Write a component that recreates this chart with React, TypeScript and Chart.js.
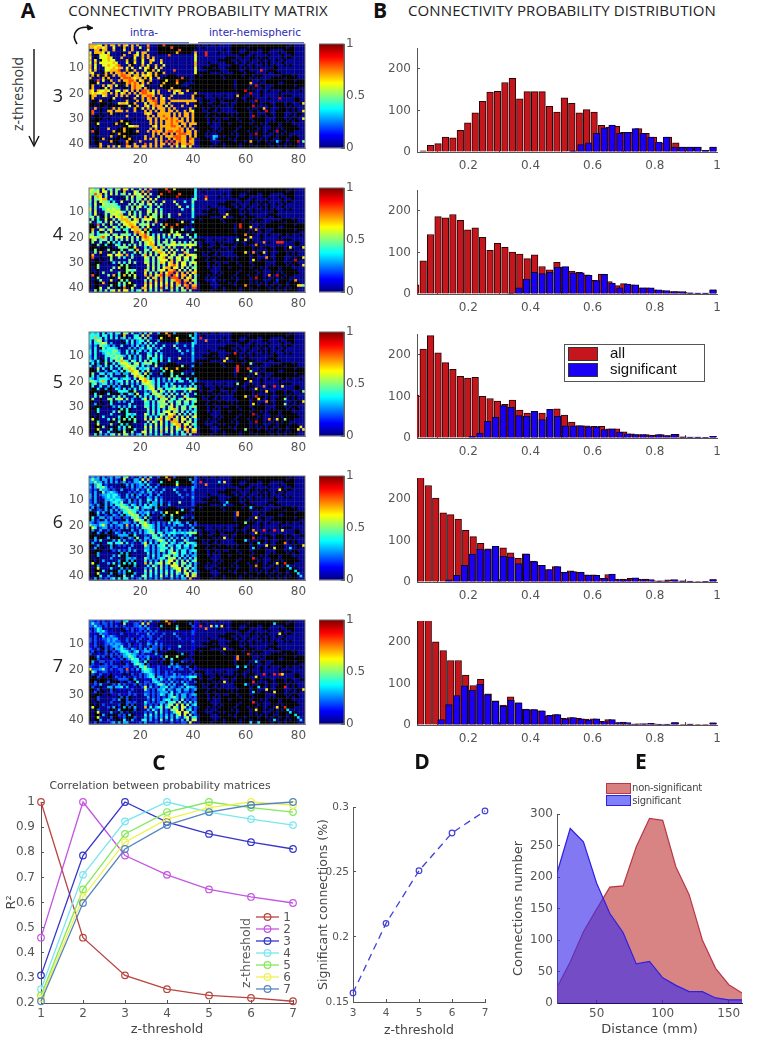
import React, { useEffect, useRef } from "react";
import { Chart, registerables } from "chart.js";
Chart.register(...registerables);
Chart.defaults.font.family = "'DejaVu Sans'";
Chart.defaults.color = "#555";

const matrixXTicks = [20, 40, 60, 80];
const matrixYTicks = [10, 20, 30, 40];
const colorbarTicks = [0, 0.5, 1];
const histXTicks = [0.2, 0.4, 0.6, 0.8, 1];
const histYTicks = [0, 100, 200];

const noTract = [
"..........................###############.#..#..#.....######################.#.....",
"............#.............###############..#..........######.##############.##.....",
"......#...................##############...........#..###...####..###.....####.....",
"..#.........#.............#############..........#....###..##.....##....#..###.....",
"..#..........#...........................................###..#.....#....#...#.......#",
"..#...#.........#........................ ...........####..#..##.#.##.....#.##.....",
"..#.#....#.....#...#.....................  ........#####..#....#...#..#..#..#.....",
"..#.......#.....##.......................  ....#......###..#..#...#.#.#....#.......",
"..#..#..........#........................ .....###.....###..#..#...#.#.#...#.#......",
"..#.......#.....#.....##.................  ..####.#...#####.#.#.#.#.....##.........",
"..#.#....#.....#......##.................  ....#####...####..##.......###..........",
".#...#......#.............###............  #####....#....####.###....#..###..........",
"..#.#..#..............#####...###.......##.#######.#######.###.###.......####.#......",
"#.....#.......#.......#.....##########..###########.#########.#.#....#####.####....",
"##.....#...#.........#.....###########.################.######...#.###########.####",
"###.........##.........#...#########....###############.######..#..#####..#########",
"##.........##.........#...#########...#################.#####.##.##...########.###",
"#...#...#....#.......#.#....##########.################.####.#.#..#..###########",
"..........................#.......#...#####################.###..#..#....##.#...#.",
".........................................................###.#...#......#..........",
"#.#...#.......#.........................####...#...#...####..#...#......#.###.....",
"##......#....#.#...........................#....#.#....#.#..###.....#.........##......",
".##..#.##..........#...................###.###..##.####.###.#...#.............##..",
"###.###.#.....###.......................##.##..###...#..######.##.###..###.##...###.",
"##.###.#######...#......................#######.#.##.#.#######.#....##.###.#.#......",
"....#..#...#.#....#.....................###.#.##.#.....#####.#..###.#...###.#.#....",
"#...#...................................###..##..#......#####.##.#..#..####.#.#....",
"##..#..#.#.#.........##.................#####.###.##.#.#.####.##...##..###...#.##..",
"#.##.#..................................####.##.######.######.##.##.##.###..#..#...",
"#.###..#.........#......................#####.##..#..###.####.#####....###.#.##....",
"####.......#.###........................#####.#.#.#######.####.####..#.####.#.##...",
"#.##.....#.#####........................#####.#...###.#######.###.#.####.####......",
"#..#.........####........................#####....#######.#####.##...###.######...",
"##.#.......#######.......................######..#.#####.#######.#...##.#.######..",
".###......#######.........................###.#.#.#####.####.##.##..##.###.###...",
"#.##....##.########......................###.#...#####.#.####.####.#..#.#.##.....",
"#.#.....#..#####.......................#####...##.#.####.####.#.##...##.####.##...",
"#.###..#.###.####.........................####...####.#.#####.#.#.#.##..###.####..",
"#.##...#.##...###.........................####....#####.###.####.##.#.##.##.###....",
"#.###.....###..#..........................#####..##.#####.###.######.##.##.#.##....",
"...##.#..#.#..#...........................####.####.#####.#####.#####.##.#.####....",
].map((s) => s.replace(/ /g, ""));

const intra3 = [
"77766.7.77.7.76.7.7...7.....8............",
"7767767..6...7..7..6..8........8.........",
"..77.77..7...6..7.....6...........8......",
"6.7776.6.......7..6.77...........7......7",
"7...6667.....7...76.7.7.......8.........6",
"6...66676...7....6..7.7.7...............6",
"7.6..66766....7..7..6..76..7............6",
"6.7.6666676...6..6..6..7...6............7",
"7.6..6676678...7....7.6..7..6...........7",
"7.6...6667677.6.6..6.67..6.7............6",
"6.7...667778..7..7...6..7.6.....8.......6",
"76....7.7.7787.76.7.7.67.7..7...........6",
".7.7..7..7.78877.77.6767.7...............",
"7....7.7....78887677.7.6..7........8.....",
"...8.6..7..7.77887.67..7.....6...8.......",
"...6.....7....78787.7.7.....7....7.......",
".7...7.67.6...7.78776......7.............",
".7....6.7.......7877.7.........7.........",
"76.76676..66.76.7.7.887.6.7...7.767..7...",
"7676677.7.7.67.7.7.788776.7.....6.76....7",
".77..67...7.7.7...6.77887..7...7.......7.",
".7.......6.......7..7.78.7.76.7........7.",
"....7.........7...7.7.7788.77..7777777777",
"...........6776..7...6.778.77.7......7...",
"...............6..7..76.7877.6.7...7....7",
"..7......7.7.....7..6.7.6.777.7.7.....7..",
".8.....77.777.7..7...7.7.7.77.77.7..7.76.",
".8......7............767..77777.7.7.77.7.",
"..............7.......7.7.77877.7.7.77.7.",
"......................77.7.7787877.7.7.7..",
"............7..........7.7.7.7787877.7.7.7.",
"...6......7...6........7.7.7.77877.77.7777",
"...............6677.....76.77778877.7.7....",
".......7.....7.........7.7.7.7777787.7.7...",
".8.......7...7....7...7.7877.7887887.77.7.",
"...........7............7.7.78.7.788877.77.",
"........7....7.......7..7..7.77788877.7.7",
".....7.........7.....7.7.7.7..7.78877.87.",
"........7.....7....7.....7.7.8.8.7877.77.",
"....7.........8..7...8.7.7.77.7.87.77887.",
"....7..7.7.6..77.77.77.7.7.7...7.6.66.6..",
];
const intra4 = [
"5645.6.45.55.66.5..5.5.7.....8..6.......4",
"6556.66.5.5..7...65.7.8.......9.........4",
"55857.5.6.5.45.5.656.6.5...8......8.....4",
"6.576.5.......5.6.556.7...5......9......4",
"5.55677.4.....5.5.55.5.6.6.............45",
"5.5.6554.4..6...5.5.6.7.5...6...6...4..5.",
"4.6..655554....5.5.55.56.5.5.....5.....4.",
"5.5.45555554..5.5.56.4.5..5.......6..4.4.",
"6.5..4565655..5.5.5...55.5.4.......4...5.",
"5.6...55656654.5.4.5..65.6.5...........4.",
"4.6...5.56657..6.5.5..5.55.5..5...7....4.",
"55.5..5.6.66765.65.5.7.655.5..5........4.",
".5.4..6..5.57775.67.5666.5...............",
"5..44.5.6.5.5677665.5.5..7.........6...4.",
"...8.5..5..5.66776.5556.5..5.8...8.......",
"...5..5..64.5.56877.5.6.....5..8.........",
".7..65.56.54.44.6775.7.4...4...5...5...4.",
".5.4..5.6.....5..7876.5........6.5.......",
"55.45565.55.5554.5.7785.4.5.5.6.566..5..4",
"6655785.5.656.6.5.6.78765.6.4.4.5.55..5.4",
".56.455.4.5.5.5.5.4.67765.5..5.5.......5.",
".5..5..5.4.4....5..5.5676.5.55.56.5.4.5.5",
"...5..4...54.5.4.5.5.5677.55.556655656665",
"...........5555..6...4.476.75.6.5...5.6..",
"..5....5....4..54.7..55.6765.5.6.5.6.5..5",
"..5.7....5.6.5...5.5.5.5.5776.6.6...75...",
".7.....66.667.7.4...57.6.5.666.65.56.7665",
".8......5..5.4..5....65.5.667.65.66.66.56",
"........5......5.....55.5.5666.7.56.55.5.",
".........4.5.4.5.5...65.5.576.67.6.66.566",
"...5........5.5.......6.5.5.5.6786.66.5.56",
"...5.....5.6..5.......5.6.5.677.66.6.5.55",
"........5.....5545...75.5.566.778.6.5.6.6",
".....5.....5..5.5....6.5.5.7.688.7.7.7.67",
".8.....5.7.4.7.5.6...7.7.678.78.86.77.6.5",
"...5.......6.....5....6.75.7.5.888.7.67.5",
"....5...6...5.4......5.5.7.7.5.5788.77.65",
".....7.....5.5.6.....7.7.6.6.6.6.78.8.7.5",
"........5..4.5...5...6.6.6.6.7.6.75.78.77",
"....6..5.....8..6...77.6.5.8.5.7.5.6.8.88",
"..5.4.5.56.6.66.4.45.6.4.5.5...5.4.55.5..",
];
const intra5 = [
"3434.4.34.44.55.4..3.4.5..3..7..3.......3",
"4444.44.4.3..7...44.6.7.......8.......4.3",
"44744.4.4.4.34.3.445.5.3...6.....6.....43",
"4.465.3.......4.4.344.5...3......7......3",
"4.44565.3.....3.4.34.4.4.4.......3.....43",
"3.3.5443.3..4...3.4.3.5.4...4...5...3..4.",
"3.4..534443....3.3.34.44.3.4.....4.....3.",
"4.4.34444553..4.4.34.3.4..4.......4..3.3.",
"4.4..3454544..4.3.4...43.4.3.......3...4.",
"3.4...44545543.4.3.4..54.5.4...........3.",
"3.4...4.45546..4.3.4..4.44.4..3...6....3.",
"43.4..4.4.55754.54.4.5.544.4..4........3.",
".4.3..5..4.46664.56.4555.4...............",
"4..33.4.4.4.4566554.4.3..6.........5...3.",
"...6.4..4..4.55765.4345.3..4.7...7.......",
"...4..3..43.4.45766.4.5.....4..6.........",
".5..44.34.33.33.5664.6.3...3...4...4...3.",
".4.3..4.4.....4..6765.4........5.4.......",
"43.34443.44.3443.4.6674.3.4.3.5.454..4..3",
"5543574.4.344.5.4.5.67654.4.3.3.4.44..4.3",
".45.344.3.3.4.4.3.3.56654.4..4.4.......4.",
".4..4..3.3.3....4..4.4565.4.34.35.4.3.4.4",
"...4..3...43.4.3.4.4.4566.55.445544545665",
"...........4444..5...3.365.64.5.4...4.5..",
"..4....4....3..43.6..44.5654.4.5.4.5.4..4",
"..4.5....4.5.4...4.4.4.4.4675.5.5...64...",
".5.....55.556.5.3...46.5.4.556.54.45.6554",
"........4..3.3..4....54.4.556.54.55.55.45",
"..3.....4......4.....44.4.4555.6.45.44.4.",
".........3.4.3.4.4...54.4.465.56.5.55.455",
"...4........4.4.......5.4.4.4.5675.55.4.45",
"...4.....4.5..4.......4.5.4.566.55.5.4.44",
"........4.....4434...64.4.455.667.5.4.5.5",
".....4.....4..4.4....5.4.4.6.577.6.6.6.56",
".6.....4.5.3.5.4.5...6.6.567.67.75.66.5.4",
"...4.......5.....4....5.64.6.4.777.6.56.4",
"...6....5...4.3......4.4.6.6.4.4677.66.54",
".....5.....4.4.5.....6.6.5.5.5.5.67.7.6.4",
"...6....4..3.4...4...5.5.5.5.6.5.64.67.66",
"....5..4.....6..5...66.5.4.7.4.6.4.5.7.77",
"..4.3.3.45.5.55.3.34.5.3.4.4...4.3.44.5..",
];
const intra6 = [
"2323.3.23.33.45.2..3.3.4..2..7..2.......2",
"3533.33.3.2..6...33.6.7.......8.......3.2",
"33533.3.3.3.23.2.334.4.2...4.....4.....32",
"2.354.2.......3.3.233.4...2......6......2",
"3.35453.2.....2.3.23.3.3.3.......2.....32",
"2.2.4332.2..3...2.3.2.4.3...3...4...2..3.",
"2.3..523432....2.2.23.33.2.3.....3.....2.",
"3.3.23343442..3.3.23.2.3..3.......3..2.2.",
"3.3..2343433..3.2.3...32.3.2.......2...3.",
"2.3...33434432.3.2.3..43.4.3...........2.",
"2.3...3.34435..3.2.3..3.33.3..2...5....2.",
"32.3..3.3.44543.43.3.4.433.3..3........2.",
".3.2..3..3.35553.45.3443.3...............",
"3..22.3.3.3.3455443.3.2..4.........4...2.",
"...4.3..3..3.44654.3234.2..3.6...6.......",
"...3..2..32.3.34655.3.4.....3..5.........",
".4..33.23.22.22.4553.5.2...2...3...3...2.",
".3.2..3.3.....3..5654.3........4.3.......",
"32.23332.33.2332.3.5563.2.3.2.4.343..3..2",
"5332463.3.233.7.3.4.56543.3.2.2.3.33..3.2",
".64.233.2.2.3.3.2.2.45543.3..3.3.......3.",
".3..3..2.2.2....3..3.3454.3.23.24.3.2.3.3",
"...3..2...32.3.2.3.3.3455.44.334433434555",
"...........3333..4...2.254.53.4.3...3.4..",
"..3....3....2..32.5..33.4543.3.4.3.4.3..3",
"..3.4....3.4.3...3.3.3.3.3564.4.4...53...",
".3.....44.445.4.2...36.4.3.445.43.34.5443",
"...3....3..2.2..3....63.3.445.43.44.44.34",
"..3.....3......3.....33.3.3444.5.34.33.3.",
".........2.3.2.3.3...43.3.354.45.4.44.344",
"...3........3.3.......4.3.3.3.4564.44.3.34",
"...3.....3.4..3.......3.4.3.455.44.4.3.33",
"........3.....3323...53.3.344.556.4.3.4.4",
".....3.....3..3.3....4.3.3.5.466.5.5.5.45",
".6.....3.4.2.4.3.4...7.5.456.56.64.55.4.3",
"...3.......4.....3....4.53.5.3.666.5.45.3",
"...6....4...3.2......3.3.5.5.3.3566.55.43",
".....4.....3.3.4.....5.5.4.4.4.4.56.6.5.3",
"...6....3..2.3...3...4.4.4.4.5.4.53.56.55",
"....4..3.....5..4...55.4.3.6.3.5.3.4.6.67",
"..3.2.2.34.4.44.2.23.4.2.3.3...3.2.33.7..",
];
const intra7 = [
"2212.2.12.22.34.1..2.2.3..1..7..1.......1",
"2422.22.2.1..5...22.6.7.......8.......2.1",
"22422.2.2.2.12.1.223.3.1...3.....3.....21",
"1.243.1.......2.2.122.3...1......5......1",
"2.24342.1.....1.2.12.2.2.2.......1.....21",
"1.1.3221.1..2...1.2.1.3.2...2...3...1..2.",
"1.2..412321....1.1.12.22.1.2.....2.....1.",
"2.2.12232331..2.2.12.1.2..2.......2..1.1.",
"2.2..1232322..2.1.2...21.2.1.......1...2.",
"1.2...22323321.2.1.2..32.3.2...........1.",
"1.2...2.23324..2.1.2..2.22.2..1...4....1.",
"21.2..2.2.33432.32.2.3.322.2..2........1.",
".2.1..2..2.24442.34.2332.2...............",
"2..11.2.2.2.2344332.2.1..3.........3...1.",
"...3.2..2..2.33543.2123.1..2.5...5.......",
"...2..1..21.2.23544.2.3.....2..4.........",
".3..22.12.11.11.3442.4.1...1...2...2...1.",
".2.1..2.2.....2..4543.2........3.2.......",
"21.12221.22.1221.2.4452.1.2.1.3.232..2..1",
"6222352.2.122.8.2.3.45432.2.1.1.2.22..2.1",
".53.122.1.1.2.2.1.1.34432.2..2.2.......2.",
".2..2..1.1.1....2..2.2343.2.12.13.2.1.2.2",
"...2..1...21.2.1.2.2.2344.33.223322323444",
"...........2222..3...1.143.42.3.2...2.3..",
"..2....2....1..21.4..22.3432.2.3.2.3.2..2",
"..2.3....2.3.2...2.2.2.2.2453.3.3...42...",
".2.....33.334.3.1...26.3.2.334.32.23.4332",
"...2....2..1.1..2....52.2.334.32.33.33.23",
"..2.....2......2.....22.2.2333.4.23.22.2.",
".........1.2.1.2.2...32.2.243.34.3.33.233",
"...2........2.2.......3.2.2.2.3453.33.2.23",
"...2.....2.3..2.......2.3.2.344.33.5.2.22",
"........2.....2212...42.2.233.445.5.3.4.3",
".....2.....2..2.2....3.2.2.4.355.6.6.5.34",
".6.....2.3.1.3.2.3...7.4.345.45.64.65.3.2",
"...2.......3.....2....3.42.4.2.556.6.34.2",
"...6....3...2.1......2.2.4.4.2.2466.66.32",
".....3.....2.2.3.....4.4.3.3.3.3.46.6.5.2",
"...6....2..1.2...2...3.3.3.3.4.3.42.46.44",
"....3..2.....4..3...44.3.2.5.2.4.2.3.5.66",
"..2.1.1.23.3.33.1.12.3.1.2.2...2.1.22.6..",
];

const inter3 = [[4,45,8.5],[5,45,8.5],[11,66,8.5],[16,62,7],[17,64,9],[19,60,9],[20,62,9],[21,57,7],[22,73,9],[23,64,9],[24,82,6.5],[25,63,9],[26,67,7],[27,68,9],[27,82,6.5],[29,63,9],[30,82,6.5],[35,72,9],[36,64,9],[37,48,3.5],[37,49,3],[38,48,3],[39,62,7],[39,72,3.5],[39,80,9],[39,82,5]];
const inter4 = [[4,45,8.5],[5,45,7],[11,53,6.5],[12,52,6.5],[15,58,8.5],[16,58,8.5],[16,62,6.5],[17,64,7.5],[19,60,7.5],[20,62,6.5],[21,60,6.5],[21,57,5],[22,67,7.5],[22,72,8.5],[22,73,8.5],[22,74,8.5],[23,64,7.5],[24,77,6.5],[24,82,6.5],[26,60,6.5],[26,67,6.5],[26,63,7.5],[28,68,7.5],[28,82,6.5],[29,63,6.5],[29,79,9],[31,82,6.5],[35,72,9],[35,69,7.5],[36,64,9],[37,79,7.5],[37,48,1.5],[39,60,7.5],[39,80,6.5],[39,81,6.5],[39,82,5],[37,72,1.5]];
const inter5 = [[3,43,8.5],[4,45,7.5],[9,56,8.5],[12,52,6.5],[11,53,6.5],[14,57,8.5],[15,57,8.5],[16,57,8.5],[13,62,5],[16,62,5],[15,61,8.5],[17,64,6.5],[19,60,6.5],[20,62,6.5],[21,57,5],[22,74,6.5],[22,71,8.5],[22,67,7.5],[23,64,6.5],[24,68,6.5],[24,82,5],[26,60,6.5],[26,64,8.5],[27,65,6.5],[29,63,6.5],[28,68,7.5],[27,75,5],[29,75,5],[28,82,6.5],[33,63,9],[36,64,9],[35,72,6.5],[35,69,7.5],[35,75,5],[39,80,6.5],[38,81,6.5],[39,82,6.5],[39,60,5]];
const inter6 = [[3,43,8.5],[4,45,7.5],[3,50,3.5],[3,52,6.5],[12,52,3],[11,53,3.5],[15,57,7.5],[16,57,7.5],[6,73,6.5],[13,62,3.5],[17,64,6.5],[19,60,5],[22,63,7.5],[22,67,8.5],[22,71,8.5],[22,74,6.5],[23,64,6.5],[25,52,6.5],[25,63,8.5],[26,60,3.5],[27,65,3.5],[29,63,3.5],[28,68,6.5],[29,71,6.5],[27,75,7.5],[29,77,3.5],[28,82,6.5],[33,63,8.5],[36,64,7.5],[35,72,6.5],[35,75,8.5],[36,76,3.5],[37,77,3.5],[38,79,3.5],[39,80,3.5],[40,81,3.5]];
const inter7 = [[3,43,8.5],[4,45,7.5],[3,47,6.5],[3,49,3.5],[3,51,6.5],[2,71,3.5],[6,73,6.5],[12,52,6.5],[15,57,7.5],[16,57,7.5],[14,61,8.5],[17,64,3.5],[19,60,3.5],[19,57,3.5],[22,67,8.5],[22,71,8.5],[22,74,6.5],[22,73,8.5],[23,64,6.5],[25,63,8.5],[25,52,6.5],[26,60,3.5],[27,65,3.5],[29,63,3.5],[28,68,6.5],[29,71,6.5],[27,75,8.5],[28,82,6.5],[33,63,8.5],[36,64,6.5],[35,72,6.5],[35,75,8.5],[36,76,3.5],[37,77,3.5],[38,79,3.5],[39,80,3.5],[40,81,3.5],[41,65,3.5],[40,71,3.5],[41,62,3.5]];

const allCounts3 = [0,3,16,20,36,34,52,70,94,122,144,146,167,177,128,145,145,145,110,96,130,117,94,102,96,64,60,62,47,47,56,45,36,22,36,22,12,12,12,4,12];
const sigCounts3 = [0,0,0,0,0,0,0,0,0,0,0,0,0,0,0,0,0,0,0,0,3,18,22,45,58,65,45,47,56,45,36,24,36,12,12,12,12,4,12];
const allCounts4 = [22,80,143,186,183,191,177,154,159,136,105,122,112,101,96,85,94,66,58,76,65,55,52,46,33,48,30,20,25,22,15,15,10,8,6,6,4,2,2,2,10];
const sigCounts4 = [0,0,0,0,0,0,0,0,0,0,0,0,2,15,36,52,49,52,65,66,51,51,45,32,47,26,15,24,22,15,15,10,8,6,6,3,2,2,10];
const allCounts5 = [103,214,246,205,181,165,148,144,146,100,95,89,81,91,67,60,63,60,50,70,55,38,30,29,28,28,22,22,15,10,8,8,7,8,6,9,3,2,2,1,4];
const sigCounts5 = [0,0,0,0,0,0,0,4,12,40,50,78,74,54,52,64,44,69,52,29,29,29,27,27,20,22,14,10,8,8,6,8,6,9,2,2,2,1,4];
const allCounts6 = [0,260,232,202,166,162,151,124,109,93,80,86,82,70,57,68,50,40,30,37,24,27,24,17,17,9,18,7,7,9,7,7,3,3,5,3,3,1,1,1,6];
const sigCounts6 = [0,0,0,0,5,16,40,67,79,78,86,62,60,44,67,49,40,30,37,23,25,23,16,16,9,19,6,6,10,6,6,2,2,6,2,2,0,1,6];
const allCounts7 = [0,300,300,200,179,155,155,120,95,110,75,58,48,68,53,38,37,34,22,25,16,18,16,14,15,9,13,6,7,2,3,3,3,1,1,6,1,2,1,1,5];
const sigCounts7 = [0,0,0,13,49,71,94,84,98,73,57,45,60,53,37,37,34,23,25,15,18,15,12,15,8,13,6,6,2,3,4,2,2,6,0,2,0,0,5];

const zLevels = [1, 2, 3, 4, 5, 6, 7];
const corrTicks = [0.2, 0.3, 0.4, 0.5, 0.6, 0.7, 0.8, 0.9, 1];
const r1 = [1, 0.46, 0.31, 0.255, 0.23, 0.22, 0.207];
const r2 = [0.46, 1, 0.787, 0.71, 0.652, 0.622, 0.598];
const r3 = [0.31, 0.787, 1, 0.92, 0.873, 0.84, 0.813];
const r4 = [0.255, 0.71, 0.923, 1, 0.96, 0.932, 0.908];
const r5 = [0.23, 0.652, 0.873, 0.96, 1, 0.978, 0.96];
const r6 = [0.218, 0.622, 0.84, 0.932, 0.978, 1, 0.988];
const r7 = [0.207, 0.598, 0.813, 0.908, 0.96, 0.988, 1];
const corrColors = ["#b8453f", "#c455e0", "#3535c8", "#78e6f0", "#84e858", "#f0f050", "#5585c0"];

const sigZ = [3, 4, 5, 6, 7];
const sigPercent = [0.157, 0.2105, 0.251, 0.28, 0.297];
const sigYTicks = [0.15, 0.2, 0.25, 0.3];

const distances = [20, 30, 40, 50, 60, 70, 80, 90, 100, 110, 120, 130, 140, 150, 160];
const nonSigConn = [25, 65, 113, 149, 184, 186, 248, 293, 290, 216, 172, 100, 55, 29, 16];
const sigConn = [206, 277, 256, 190, 142, 112, 62, 66, 40, 28, 18, 18, 8, 5, 5];

const jet = (v: number) => {
  const f = (t: number) => Math.max(0, Math.min(1, 1.5 - Math.abs(4 * v - t)));
  return `rgb(${Math.round(255 * f(3))},${Math.round(255 * f(2))},${Math.round(255 * f(1))})`;
};
const TEXT = "#555";

const hideAxisExtras = (s: any, w?: number, h?: number) => {
  if (w !== undefined) s.width = w;
  if (h !== undefined) s.height = h;
  s.paddingLeft = s.paddingRight = s.paddingTop = s.paddingBottom = 0;
};
const axis = (list: number[], min: number, max: number, size: number, extra: any = {}, title?: any) => ({
  type: "linear",
  min,
  max,
  reverse: !!extra.reverse,
  position: extra.position,
  afterBuildTicks: (s: any) => { s.ticks = list.map((value) => ({ value })); },
  grid: { display: true, drawOnChartArea: false, drawTicks: true, tickLength: -3, color: extra.line || "#555" },
  border: { display: true, color: extra.line || "#555", width: 1 },
  ticks: { autoSkip: false, maxRotation: 0, minRotation: 0, padding: extra.pad ?? 8, color: TEXT, font: { size }, callback: (v: any) => String(v) },
  title: title ? { display: true, text: title, color: "#444", font: { size: extra.titleSize || 13 }, padding: extra.titlePad ?? 2 } : { display: false },
});

const framePlugin = {
  id: "frame",
  afterDraw(c: any, _a: any, o: any) {
    if (!o || !o.color) return;
    const a = c.chartArea;
    c.ctx.save();
    c.ctx.strokeStyle = o.color;
    c.ctx.lineWidth = 1;
    c.ctx.strokeRect(a.left, a.top, a.right - a.left, a.bottom - a.top);
    c.ctx.restore();
  },
};

type Geo = { l: number; t: number; r: number; b: number; ml: number; mt: number; mr: number; mb: number };
function Plot({ g, config }: { g: Geo; config: (g: Geo) => any }) {
  const ref = useRef<HTMLCanvasElement>(null);
  useEffect(() => {
    const c = new Chart(ref.current as any, config(g));
    return () => c.destroy();
  }, []);
  return (
    <canvas
      ref={ref}
      width={g.r - g.l + g.ml + g.mr}
      height={g.b - g.t + g.mt + g.mb}
      style={{ position: "absolute", left: g.l - g.ml, top: g.t - g.mt, width: g.r - g.l + g.ml + g.mr, height: g.b - g.t + g.mt + g.mb }}
    />
  );
}
const base = (g: Geo, scales: any, plugins: any = {}) => ({
  responsive: false,
  animation: false,
  devicePixelRatio: 1,
  events: [],
  layout: { padding: { top: g.mt, right: g.mr, left: 0, bottom: 0 } },
  scales,
  plugins: { legend: { display: false }, tooltip: { enabled: false }, ...plugins },
});

const matrixConfig = (intra: string[], inter: number[][]) => (g: Geo) => {
  const sparse = new Map(inter.map(([r, c, v]) => [`${r}:${c}`, v]));
  const data: any[] = [];
  const colors: string[] = [];
  noTract.forEach((row, ri) => {
    for (let ci = 0; ci < 82; ci++) {
      const ch = ci < 41 ? intra[ri][ci] : undefined;
      const sp = sparse.get(`${ri + 1}:${ci + 1}`);
      const tenths = sp !== undefined ? sp : ch && ch !== "." ? Number(ch) : null;
      data.push({ x: ci + 1, y: ri + 1 });
      colors.push(tenths !== null ? jet(tenths / 10) : row[ci] === "#" ? "#000" : "#01018c");
    }
  });
  return {
    type: "scatter",
    data: { datasets: [{ data, pointBackgroundColor: colors, pointBorderWidth: 0, pointRadius: 2.05, pointStyle: "rect" }] },
    options: {
      ...base(g, {
        x: { ...axis(matrixXTicks, 0.5, 82.5, 12, { line: "#777" }), afterFit: (s: any) => hideAxisExtras(s, undefined, g.mb) },
        y: { ...axis(matrixYTicks, 0.5, 41.5, 12, { reverse: true, line: "#777" }), afterFit: (s: any) => hideAxisExtras(s, g.ml) },
      }, { frame: { color: "#777" } }),
    },
    plugins: [framePlugin],
  };
};

const colorbarConfig = (g: Geo) => ({
  type: "bar",
  data: {
    labels: ["p"],
    datasets: [{
      data: [1],
      barPercentage: 1,
      categoryPercentage: 1,
      backgroundColor: (ctx: any) => {
        const a = ctx.chart.chartArea;
        if (!a) return "#000";
        const gr = ctx.chart.ctx.createLinearGradient(0, a.bottom, 0, a.top);
        [0, 0.125, 0.375, 0.625, 0.875, 1].forEach((s) => gr.addColorStop(s, jet(s)));
        return gr;
      },
    }],
  },
  options: {
    ...base(g, {
      x: { display: false, afterFit: (s: any) => hideAxisExtras(s, undefined, 0) },
      y: { ...axis(colorbarTicks, 0, 1, 12, { position: "right", line: "#666", pad: 5 }), afterFit: (s: any) => hideAxisExtras(s, g.mr) },
    }, { frame: { color: "#666" } }),
    layout: { padding: { top: g.mt, bottom: g.mb, left: 0, right: 0 } },
  },
  plugins: [framePlugin],
});

const histConfig = (all: number[], sig: number[], redStep: number) => (g: Geo) => ({
  type: "bar",
  data: {
    datasets: [
      {
        label: "all",
        data: all.map((y, k) => ({ x: 0.987 - (40 - k) * redStep, y })).filter((p) => p.y > 0),
        backgroundColor: "#c4161c", borderColor: "#2a0505", borderWidth: 1, barThickness: 6.6, grouped: false, order: 2,
      },
      {
        label: "significant",
        data: sig.map((y, i) => ({ x: 0.0375 + 0.025 * i, y })).filter((p) => p.y > 0),
        backgroundColor: "#1a00f5", borderColor: "#05052a", borderWidth: 1, barThickness: 6.6, grouped: false, order: 1,
      },
    ],
  },
  options: base(g, {
    x: { ...axis(histXTicks, 0.035, 1, 12, { pad: 10 }), offset: false, afterFit: (s: any) => hideAxisExtras(s, undefined, g.mb) },
    y: { ...axis(histYTicks, 0, 250, 12, { pad: 9 }), afterFit: (s: any) => hideAxisExtras(s, g.ml) },
  }),
});

const corrConfig = (g: Geo) => ({
  type: "line",
  data: {
    labels: zLevels,
    datasets: [r1, r2, r3, r4, r5, r6, r7].map((d, i) => ({
      label: String(zLevels[i]),
      data: d.map((y, k) => ({ x: zLevels[k], y })),
      borderColor: corrColors[i], borderWidth: 1.3, tension: 0, clip: false,
      pointRadius: 3.3, pointBorderWidth: 1.2, pointBorderColor: corrColors[i], pointBackgroundColor: "rgba(0,0,0,0)",
      order: 7 - i,
    })),
  },
  options: base(g, {
    x: { ...axis(zLevels, 1, 7, 12, { titleSize: 13, pad: 7 }, "z-threshold"), afterFit: (s: any) => hideAxisExtras(s, undefined, g.mb) },
    y: { ...axis(corrTicks, 0.2, 1, 12, { pad: 9, titlePad: 4 }, "R²"), afterFit: (s: any) => hideAxisExtras(s, g.ml) },
  }),
});

const sigConfig = (g: Geo) => ({
  type: "line",
  data: {
    labels: sigZ,
    datasets: [{
      data: sigPercent.map((y, k) => ({ x: sigZ[k], y })),
      borderColor: "#4040d8", borderWidth: 1.3, borderDash: [7, 5], tension: 0, clip: false,
      pointRadius: 2.8, pointBorderWidth: 1.2, pointBorderColor: "#4040d8", pointBackgroundColor: "rgba(0,0,0,0)",
    }],
  },
  options: base(g, {
    x: { ...axis(sigZ, 3, 7, 10.5, { titleSize: 12.5, pad: 8 }, "z-threshold"), afterFit: (s: any) => hideAxisExtras(s, undefined, g.mb) },
    y: { ...axis(sigYTicks, 0.15, 0.3, 10.5, { titleSize: 12.5, pad: 7, titlePad: 1 }, "Significant connections (%)"), afterFit: (s: any) => hideAxisExtras(s, g.ml) },
  }),
});

const distConfig = (g: Geo) => ({
  type: "line",
  data: {
    labels: distances,
    datasets: [
      {
        label: "non-significant",
        data: nonSigConn.map((y, k) => ({ x: distances[k], y })),
        borderColor: "#b83848", borderWidth: 1.2, backgroundColor: "rgba(190,50,50,0.6)", fill: "origin", pointRadius: 0, tension: 0, order: 2,
      },
      {
        label: "significant",
        data: sigConn.map((y, k) => ({ x: distances[k], y })),
        borderColor: "#3020e0", borderWidth: 1.2, backgroundColor: "rgba(60,45,235,0.64)", fill: "origin", pointRadius: 0, tension: 0, order: 1,
      },
    ],
  },
  options: base(g, {
    x: { ...axis([50, 100, 150], 20, 160, 12, { titleSize: 13, line: "#1a1060", pad: 7 }, "Distance (mm)"), afterFit: (s: any) => hideAxisExtras(s, undefined, g.mb) },
    y: { ...axis([0, 50, 100, 150, 200, 250, 300], 0, 300, 12, { titleSize: 13, pad: 7 }, "Connections number"), afterFit: (s: any) => hideAxisExtras(s, g.ml) },
  }),
});

function T({ x, y, text, size, color = "#222", weight = 400, rot = 0, family = "'Open Sans'", spacing = 0 }: any) {
  return (
    <div style={{
      position: "absolute", left: x, top: y, whiteSpace: "nowrap", fontFamily: family, fontSize: size, fontWeight: weight, color,
      letterSpacing: spacing, lineHeight: 1, transform: `translate(-50%,-50%) rotate(${rot}deg)`,
    }}>{text}</div>
  );
}

const matrixTops = [44, 188, 332, 476, 620];
const histBottoms = [152, 294, 438, 582, 725];
const rowLabels = ["3", "4", "5", "6", "7"];
const rowLabelY = [95, 233, 381, 521, 665];
const matrixSets: [string[], number[][]][] = [[intra3, inter3], [intra4, inter4], [intra5, inter5], [intra6, inter6], [intra7, inter7]];
const histSets: [number[], number[], number][] = [
  [allCounts3, sigCounts3, 0.0239], [allCounts4, sigCounts4, 0.0239], [allCounts5, sigCounts5, 0.0239],
  [allCounts6, sigCounts6, 0.0241], [allCounts7, sigCounts7, 0.0241],
];
const legendLineY = [917, 929, 941, 953, 965, 977, 989];

export default function App() {
  return (
    <div style={{ position: "absolute", left: 0, top: 0, width: 775, height: 1042, overflow: "hidden", background: "#fff", filter: "blur(0.35px)" }}>
      {matrixSets.map(([a, b], i) => (
        <Plot key={"m" + i} g={{ l: 89, r: 305, t: matrixTops[i], b: matrixTops[i] + 104, ml: 40, mt: 4, mr: 6, mb: 24 }} config={matrixConfig(a, b)} />
      ))}
      {matrixTops.map((t, i) => (
        <Plot key={"c" + i} g={{ l: 319, r: 344, t, b: t + 104, ml: 0, mt: 8, mr: 30, mb: 8 }} config={colorbarConfig} />
      ))}
      {histSets.map(([a, s, step], i) => (
        <Plot key={"h" + i} g={{ l: 417, r: 717, t: histBottoms[i] - 104, b: histBottoms[i], ml: 40, mt: 8, mr: 12, mb: 24 }} config={histConfig(a, s, step)} />
      ))}
      <Plot g={{ l: 41, r: 293, t: 802, b: 1003, ml: 41, mt: 8, mr: 10, mb: 36 }} config={corrConfig} />
      <Plot g={{ l: 353, r: 485, t: 807, b: 1002, ml: 38, mt: 8, mr: 12, mb: 38 }} config={sigConfig} />
      <Plot g={{ l: 557, r: 742, t: 814, b: 1003, ml: 48, mt: 8, mr: 12, mb: 36 }} config={distConfig} />

      <T x={28} y={10} text="A" size={21} weight={700} color="#111" />
      <T x={198} y={10} text="CONNECTIVITY PROBABILITY MATRIX" size={15} spacing={0.1} />
      <T x={380} y={10} text="B" size={21} weight={700} color="#111" />
      <T x={562} y={10} text="CONNECTIVITY PROBABILITY DISTRIBUTION" size={15} spacing={0.1} />
      <T x={144} y={32} text="intra-" size={10.5} color="#2a2ab0" family="'DejaVu Sans'" />
      <T x={255} y={32} text="inter-hemispheric" size={10.5} color="#2a2ab0" family="'DejaVu Sans'" />
      <T x={18} y={94} text="z-threshold" size={14} rot={-90} color="#333" />
      {rowLabels.map((s, i) => <T key={s} x={58} y={rowLabelY[i]} text={s} size={18} color="#222" />)}
      <T x={159} y={762} text="C" size={21} weight={700} color="#111" />
      <T x={422} y={761} text="D" size={21} weight={700} color="#111" />
      <T x={641} y={761} text="E" size={21} weight={700} color="#111" />
      <T x={160} y={786} text="Correlation between probability matrices" size={10.8} color="#444" family="'DejaVu Sans'" />

      <svg width={775} height={1042} style={{ position: "absolute", left: 0, top: 0 }}>
        <line x1={92} y1={42.7} x2={189} y2={42.7} stroke="#5a6cc4" strokeWidth={1.6} />
        <line x1={198} y1={42.7} x2={304} y2={42.7} stroke="#5a6cc4" strokeWidth={1.6} />
        <path d="M77 44 C70 33 78 25 91 28" fill="none" stroke="#111" strokeWidth={1.6} />
        <path d="M93 28 L87 25 L88 30 Z" fill="#111" stroke="#111" />
        <line x1={34} y1={49} x2={34} y2={145} stroke="#111" strokeWidth={1.4} />
        <path d="M29 136 L34 146 L39 136" fill="none" stroke="#111" strokeWidth={1.4} />
        {legendLineY.map((y, i) => (
          <g key={i}>
            <line x1={256} y1={y} x2={279} y2={y} stroke={corrColors[i]} strokeWidth={1.3} />
            <circle cx={267.5} cy={y} r={3.3} fill="none" stroke={corrColors[i]} strokeWidth={1.2} />
          </g>
        ))}
      </svg>
      {legendLineY.map((y, i) => <T key={i} x={287} y={y} text={String(zLevels[i])} size={12} color="#555" family="'DejaVu Sans'" />)}
      <T x={246} y={953} text="z-threshold" size={12.5} rot={-90} color="#555" family="'DejaVu Sans'" />

      <div style={{ position: "absolute", left: 564, top: 344, width: 139, height: 36, border: "1px solid #555", background: "#fff" }} />
      <div style={{ position: "absolute", left: 568, top: 347, width: 28, height: 12, background: "#c4161c", border: "1px solid #333" }} />
      <div style={{ position: "absolute", left: 568, top: 363, width: 28, height: 12, background: "#1a00f5", border: "1px solid #333" }} />
      <div style={{ position: "absolute", left: 610, top: 344, fontFamily: "'Liberation Sans'", fontSize: 15, color: "#111" }}>all</div>
      <div style={{ position: "absolute", left: 610, top: 360, fontFamily: "'Liberation Sans'", fontSize: 15, color: "#111" }}>significant</div>

      <div style={{ position: "absolute", left: 606, top: 783, width: 23, height: 9, background: "#d88080", border: "1px solid #b83848" }} />
      <div style={{ position: "absolute", left: 606, top: 795, width: 23, height: 9, background: "#8080f8", border: "1px solid #3020e0" }} />
      <T x={667} y={788} text="non-significant" size={10} spacing={-0.28} color="#444" family="'DejaVu Sans'" />
      <T x={656.5} y={801} text="significant" size={10} spacing={-0.28} color="#444" family="'DejaVu Sans'" />
    </div>
  );
}
